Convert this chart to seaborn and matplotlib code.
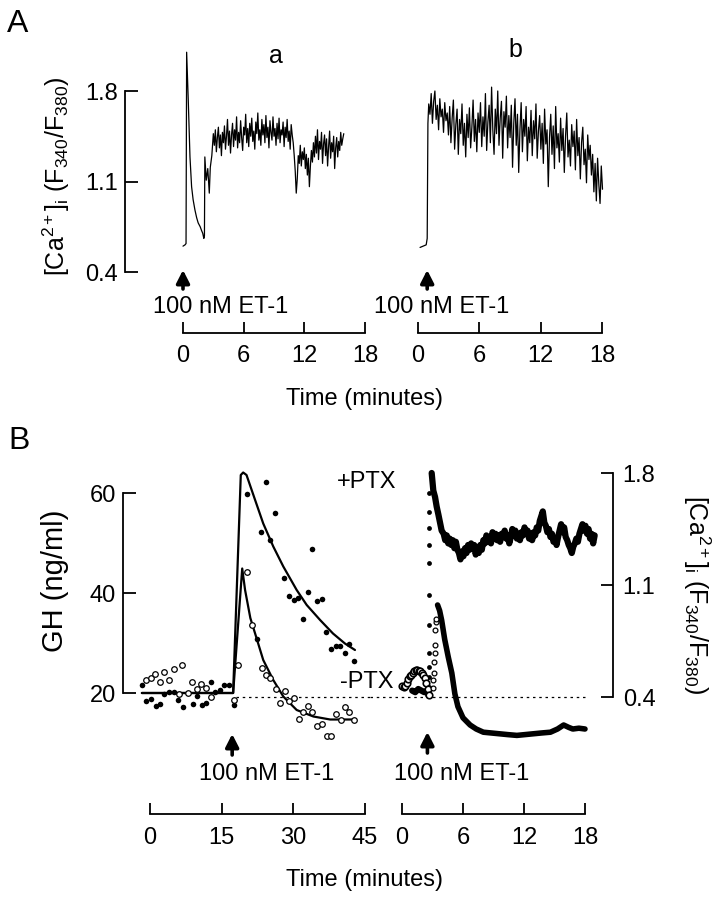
import numpy as np
import pandas as pd
import matplotlib.pyplot as plt
import seaborn as sns

# -----------------------------
# DATA
# -----------------------------
# Panel A-a : [Ca2+]i trace, time in minutes
a_onset_t = [0.0, 0.2, 0.3, 0.36, 0.45, 0.52, 0.69, 0.85, 1.0, 1.18, 1.35, 1.5, 1.7,
             1.84, 1.95, 2.06, 2.12, 2.16, 2.3, 2.45, 2.6, 2.7, 2.85]
a_onset_ca = [0.60, 0.61, 0.62, 2.10, 1.90, 1.73, 1.29, 1.06, 0.96, 0.88, 0.82, 0.78, 0.75,
              0.72, 0.70, 0.66, 0.68, 1.29, 1.11, 1.20, 1.01, 1.21, 1.30]
# plateau, one sample every 0.1 min from 3.0 to 15.9 min
a_plateau_ca = [
    1.47, 1.38, 1.50, 1.33, 1.44, 1.52, 1.36, 1.46, 1.30, 1.48, 1.40,
    1.53, 1.35, 1.45, 1.58, 1.38, 1.49, 1.32, 1.46, 1.55, 1.37,
    1.50, 1.42, 1.60, 1.36, 1.48, 1.40, 1.57, 1.44, 1.34, 1.52,
    1.46, 1.62, 1.40, 1.51, 1.37, 1.55, 1.45, 1.59, 1.41, 1.49,
    1.35, 1.56, 1.47, 1.63, 1.42, 1.50, 1.38, 1.58, 1.46, 1.54,
    1.40, 1.61, 1.44, 1.52, 1.36, 1.57, 1.48, 1.42, 1.60, 1.45,
    1.51, 1.38, 1.55, 1.43, 1.59, 1.40, 1.50, 1.46, 1.56, 1.37,
    1.52, 1.44, 1.58, 1.41, 1.49, 1.35, 1.54, 1.46, 1.40, 1.30,
    1.18, 1.01, 1.12, 1.30, 1.24, 1.38, 1.22, 1.33, 1.27, 1.36,
    1.20, 1.31, 1.15, 1.28, 1.06, 1.22, 1.34, 1.25, 1.40, 1.29,
    1.45, 1.32, 1.50, 1.27, 1.41, 1.35, 1.48, 1.24, 1.39, 1.46,
    1.30, 1.43, 1.22, 1.37, 1.49, 1.28, 1.40, 1.33, 1.45, 1.20,
    1.36, 1.44, 1.29, 1.41, 1.34, 1.48, 1.38, 1.43, 1.47]

# Panel A-b
b_onset_t = [0.2, 0.5, 0.8, 0.9, 0.97]
b_onset_ca = [0.59, 0.60, 0.61, 0.66, 1.55]
# plateau, evenly sampled from 1.05 to 18.05 min
b_plateau_ca = [
    1.70, 1.62, 1.78, 1.55, 1.72, 1.80, 1.58, 1.69, 1.50, 1.74, 1.60, 1.66, 1.48, 1.71, 1.57, 1.63, 1.46,
    1.68, 1.40, 1.59, 1.73, 1.35, 1.54, 1.66, 1.31, 1.58, 1.47, 1.70, 1.38, 1.55, 1.29, 1.62, 1.44, 1.67,
    1.36, 1.52, 1.73, 1.41, 1.58, 1.33, 1.63, 1.48,
    1.71, 1.37, 1.60, 1.45, 1.78, 1.34, 1.56, 1.69, 1.40, 1.83, 1.50, 1.31, 1.66, 1.47, 1.80, 1.38, 1.59,
    1.72, 1.28, 1.64, 1.52, 1.76, 1.36, 1.61, 1.44,
    1.69, 1.21, 1.55, 1.74, 1.38, 1.62, 1.17, 1.50, 1.71, 1.33, 1.58, 1.45, 1.68, 1.26, 1.52, 1.40, 1.65,
    1.30, 1.57, 1.43, 1.70, 1.28, 1.49, 1.61, 1.35,
    1.55, 1.24, 1.66, 1.39, 1.50, 1.06, 1.44, 1.62, 1.31, 1.53, 1.20, 1.68, 1.36, 1.47, 1.25, 1.59, 1.34,
    1.51, 1.17, 1.45, 1.63, 1.29, 1.42, 1.22, 1.54,
    1.37, 1.49, 1.19, 1.58, 1.30, 1.44, 1.12, 1.40, 1.52, 1.23, 1.35, 1.09, 1.46, 1.27, 1.38, 1.15,
    1.31, 1.02, 1.24, 0.95, 1.28, 1.08, 0.93, 1.22, 1.04]

# Panel B left : GH release (ng/ml), time in minutes
gh_plus_t = [-1.74, -0.8, 0.14, 1.2, 2.1, 3.0, 4.0, 5.0, 5.9, 7.0, 8.9, 9.8, 10.8, 11.7, 12.7,
             13.7, 14.6, 15.5, 16.5, 17.6, 20.2, 22.3, 23.2, 24.2, 25.2, 26.2, 28.1, 29.1, 30.1,
             31.0, 32.1, 33.0, 33.9, 35.0, 35.9, 36.8, 37.9, 38.9, 39.7, 40.8, 41.7, 42.7]
gh_plus = [21.6, 18.5, 18.9, 17.4, 17.9, 19.8, 20.2, 20.2, 18.6, 17.3, 17.8, 19.4, 17.6, 18.1, 22.3,
           20.3, 20.7, 21.6, 21.6, 17.7, 59.9, 30.8, 52.3, 62.3, 50.6, 56.1, 43.1, 39.5, 38.6,
           39.1, 34.8, 40.3, 48.9, 38.5, 38.8, 32.3, 28.8, 29.4, 29.4, 28.1, 29.9, 26.4]
gh_minus_t = [-0.8, 0.14, 1.05, 2.1, 3.0, 4.0, 5.0, 6.07, 6.8, 7.9, 8.85, 9.8, 10.7, 11.7, 12.7,
              17.6, 18.5, 20.2, 21.3, 23.4, 24.3, 25.2, 26.3, 27.2, 28.2, 29.1, 30.1, 31.2, 32.1,
              33.1, 34.0, 35.0, 35.9, 37.0, 37.8, 38.9, 39.9, 40.8, 41.7, 42.7]
gh_minus = [22.6, 23.1, 23.9, 22.3, 24.3, 22.6, 24.9, 19.9, 25.6, 20.1, 22.3, 20.9, 21.9, 21.1, 19.3,
            18.6, 25.6, 44.3, 33.7, 25.1, 23.7, 23.1, 20.9, 18.1, 20.4, 18.4, 19.1, 14.9, 16.3,
            17.5, 16.3, 13.5, 13.9, 11.5, 11.5, 15.9, 14.6, 17.3, 16.3, 14.6]
fit_plus_t = [-1.7, 17.4, 19.0, 19.5, 20.2, 22.0, 23.7, 25.8, 27.9, 30.7, 32.8, 35.6, 38.3, 40.8, 42.9]
fit_plus = [20, 20, 63.6, 64.1, 63.6, 58.6, 53.9, 49.3, 45.3, 40.6, 37.6, 34.6, 31.9, 29.9, 28.6]
fit_minus_t = [-1.7, 17.4, 19.3, 19.9, 21.0, 22.0, 23.7, 25.8, 27.9, 30.7, 34.2, 37.7, 42.9]
fit_minus = [20, 20, 44.9, 40.6, 35.0, 31.9, 26.6, 22.6, 19.3, 16.6, 15.3, 14.7, 14.7]

# Panel B right : [Ca2+]i, +PTX (filled) and -PTX (open)
ca_plus_base_t = [1.0, 1.3, 1.6, 1.9, 2.2, 2.5, 2.6]
ca_plus_base = [0.44, 0.43, 0.45, 0.44, 0.43, 0.44, 0.41]
ca_plus_rise_t = 2.65
ca_plus_rise = [0.465, 0.527, 0.59, 0.673, 0.85, 1.04, 1.235, 1.35, 1.454, 1.558, 1.673]
ca_plus_peak_t = [2.92, 3.08, 3.25, 3.41, 3.58, 3.74, 3.9]
ca_plus_peak = [1.80, 1.69, 1.65, 1.59, 1.54, 1.49, 1.44]
# plateau, evenly sampled from 4.1 to 18.95 min
ca_plus_plateau = [
    1.42, 1.38, 1.41, 1.36, 1.39, 1.35, 1.38, 1.33, 1.37, 1.32,
    1.30, 1.26, 1.31, 1.28, 1.33, 1.30, 1.35, 1.32, 1.36, 1.33,
    1.35, 1.29, 1.33, 1.30, 1.35, 1.32, 1.38, 1.36, 1.41, 1.37,
    1.39, 1.36, 1.43, 1.40, 1.42, 1.38, 1.41, 1.37, 1.42, 1.40,
    1.44, 1.39, 1.41, 1.36, 1.40, 1.45, 1.41, 1.44, 1.39, 1.42,
    1.38, 1.43, 1.41, 1.46, 1.42, 1.44, 1.39, 1.42, 1.38, 1.43,
    1.41, 1.46, 1.44, 1.50, 1.53, 1.56, 1.49, 1.47, 1.43, 1.45,
    1.40, 1.42, 1.37, 1.39, 1.35, 1.40, 1.44, 1.48, 1.43, 1.46,
    1.40, 1.38, 1.35, 1.33, 1.30, 1.34, 1.36, 1.39, 1.37, 1.42,
    1.45, 1.48, 1.44, 1.47, 1.42, 1.45, 1.39, 1.42, 1.36, 1.41]
ca_minus_base_t = [0.0, 0.15, 0.3, 0.45, 0.6, 0.75, 0.9, 1.05, 1.2, 1.35, 1.5, 1.65, 1.8, 1.95,
                   2.1, 2.25, 2.4, 2.55, 2.7]
ca_minus_base = [0.47, 0.46, 0.47, 0.49, 0.51, 0.53, 0.54, 0.55, 0.56, 0.57, 0.57, 0.56, 0.56, 0.55,
                 0.54, 0.52, 0.49, 0.45, 0.41]
ca_minus_rise_t = [3.05, 3.08, 3.12, 3.16, 3.2, 3.24, 3.28, 3.32, 3.35]
ca_minus_rise = [0.454, 0.506, 0.548, 0.62, 0.673, 0.725, 0.819, 0.87, 0.89]
ca_minus_t = [3.5, 3.7, 3.9, 4.2, 4.55, 4.9, 5.2, 5.5, 6.0, 6.7, 7.3, 8.0, 8.8, 9.6, 10.4, 11.3,
              12.1, 12.9, 13.7, 14.6, 15.3, 15.9, 16.4, 16.8, 17.4, 18.0]
ca_minus = [0.975, 0.94, 0.88, 0.76, 0.65, 0.55, 0.42, 0.34, 0.27, 0.225, 0.20, 0.18, 0.175, 0.17,
            0.165, 0.16, 0.165, 0.17, 0.175, 0.18, 0.20, 0.225, 0.21, 0.20, 0.205, 0.20]

# stimulus (100 nM ET-1) times and axis ticks
stim_a, stim_b, stim_gh, stim_ca = 0.0, 0.9, 17.2, 2.5
ca_ticks = [0.4, 1.1, 1.8]
gh_ticks = [20, 40, 60]
t18_ticks = [0, 6, 12, 18]
t45_ticks = [0, 15, 30, 45]

# -----------------------------
# STYLE / LAYOUT HELPERS
# -----------------------------
sns.set_style("ticks")
plt.rcParams["font.family"] = ["Liberation Sans", "DejaVu Sans"]
plt.rcParams["mathtext.fontset"] = "custom"
plt.rcParams["mathtext.rm"] = "Liberation Sans"
plt.rcParams["mathtext.it"] = "Liberation Sans:italic"
plt.rcParams["mathtext.default"] = "regular"
for key in ("text.color", "axes.labelcolor", "xtick.color", "ytick.color", "axes.edgecolor"):
    plt.rcParams[key] = "black"

W, H = 716, 900
FS = 17


def box(x0, y0, x1, y1):
    return [x0 / W, 1 - y1 / H, (x1 - x0) / W, (y1 - y0) / H]


def lims(p0, p1, pa, va, pb, vb):
    k = (vb - va) / (pb - pa)
    return va + (p0 - pa) * k, va + (p1 - pa) * k


def fy(y):
    return 1 - y / H


def style(ax, xticks, yticks=None, side="left"):
    for s in ax.spines.values():
        s.set_visible(False)
    ax.spines["bottom"].set_visible(True)
    ax.spines["bottom"].set_bounds(xticks[0], xticks[-1])
    ax.spines["bottom"].set_linewidth(1.3)
    ax.set_xticks(xticks)
    ax.tick_params(axis="x", direction="in", length=8, width=1.3, pad=9, labelsize=FS)
    if yticks is None:
        ax.set_yticks([])
    else:
        ax.spines[side].set_visible(True)
        ax.spines[side].set_bounds(yticks[0], yticks[-1])
        ax.spines[side].set_linewidth(1.3)
        if side == "right":
            ax.yaxis.tick_right()
        ax.set_yticks(yticks)
        ax.tick_params(axis="y", direction="in", length=9, width=1.3,
                       pad=7 if side == "right" else 5, labelsize=FS)
    ax.set_xlabel("")
    ax.set_ylabel("")
    ax.patch.set_alpha(0)


def stim_arrow(ax, t, y_tip, y_tail):
    ax.annotate("", xy=(t, fy(y_tip)), xytext=(t, fy(y_tail)),
                xycoords=("data", "figure fraction"), textcoords=("data", "figure fraction"),
                arrowprops=dict(arrowstyle="-|>,head_length=0.55,head_width=0.28", color="k",
                                lw=2.6, mutation_scale=14, shrinkA=0, shrinkB=0),
                annotation_clip=False)


def trace(ax, t, v, lw, **kw):
    df = pd.DataFrame({"t": t, "v": v})
    sns.lineplot(data=df, x="t", y="v", sort=False, estimator=None, color="k",
                 lw=lw, ax=ax, legend=False, **kw)


fig = plt.figure(figsize=(7.16, 9.0), dpi=100)

# -----------------------------
# PANEL A
# -----------------------------
ax_a = fig.add_axes(box(125, 40, 370, 333))
ax_b = fig.add_axes(box(370, 40, 625, 333))
ax_a.set_xlim(lims(125, 370, 183, 0, 365, 18))
ax_b.set_xlim(lims(370, 625, 418, 0, 602, 18))
for ax in (ax_a, ax_b):
    ax.set_ylim(lims(333, 40, 272, 0.4, 91, 1.8))

a_t = a_onset_t + list(np.linspace(3.0, 15.9, len(a_plateau_ca)))
trace(ax_a, a_t, a_onset_ca + a_plateau_ca, 0.9)
b_t = b_onset_t + list(np.linspace(1.05, 18.05, len(b_plateau_ca)))
trace(ax_b, b_t, b_onset_ca + b_plateau_ca, 0.9)

style(ax_a, t18_ticks, ca_ticks, "left")
style(ax_b, t18_ticks)
stim_arrow(ax_a, stim_a, 270, 289)
stim_arrow(ax_b, stim_b, 270, 289)

fig.text(18 / W, fy(24), "A", fontsize=23, ha="center", va="center")
fig.text(276 / W, fy(63), "a", fontsize=18, ha="center", va="baseline")
fig.text(515 / W, fy(57), "b", fontsize=18, ha="center", va="baseline")
fig.text(221 / W, fy(307), "100 nM ET-1", fontsize=FS, ha="center", va="center")
fig.text(442 / W, fy(307), "100 nM ET-1", fontsize=FS, ha="center", va="center")
fig.text(365 / W, fy(399), "Time (minutes)", fontsize=FS, ha="center", va="center")
ca_label = "[Ca$^{2+}$]$_i$ (F$_{340}$/F$_{380}$)"
fig.text(56 / W, fy(176), ca_label, fontsize=18, rotation=90, ha="center", va="center")

# -----------------------------
# PANEL B
# -----------------------------
ax_gh = fig.add_axes(box(123, 460, 370, 814))
ax_ca = fig.add_axes(box(370, 460, 613, 814))
ax_gh.set_xlim(lims(123, 370, 150, 0, 365, 45))
ax_gh.set_ylim(lims(814, 460, 693, 20, 493, 60))
ax_ca.set_xlim(lims(370, 613, 402, 0, 585, 18))
ax_ca.set_ylim(lims(814, 460, 697, 0.4, 473, 1.8))

# dotted reference line at the GH / Ca baseline
ax_gh.hlines(19.2, 18.0, ax_gh.get_xlim()[1], colors="k", lw=0.9, linestyles=(0, (2, 3)))
ax_ca.hlines(0.4, ax_ca.get_xlim()[0], 18.3, colors="k", lw=0.9, linestyles=(0, (2, 3)))

trace(ax_gh, fit_plus_t, fit_plus, 1.6)
trace(ax_gh, fit_minus_t, fit_minus, 1.6)
sns.scatterplot(x=gh_plus_t, y=gh_plus, color="k", s=16, linewidth=0, ax=ax_gh, zorder=3)
sns.scatterplot(x=gh_minus_t, y=gh_minus, color="white", edgecolor="k", s=16, linewidth=0.9,
                ax=ax_gh, zorder=3)

trace(ax_ca, ca_plus_base_t, ca_plus_base, 4.5)
sns.scatterplot(x=[ca_plus_rise_t] * len(ca_plus_rise), y=ca_plus_rise, color="k", s=12,
                linewidth=0, ax=ax_ca)
ca_plus_t = ca_plus_peak_t + list(np.linspace(4.1, 18.95, len(ca_plus_plateau)))
trace(ax_ca, ca_plus_t, ca_plus_peak + ca_plus_plateau, 4.5)
sns.scatterplot(x=ca_minus_base_t, y=ca_minus_base, color="white", edgecolor="k", s=22,
                linewidth=1.2, ax=ax_ca, zorder=3)
sns.scatterplot(x=ca_minus_rise_t, y=ca_minus_rise, color="white", edgecolor="k", s=12,
                linewidth=0.9, ax=ax_ca, zorder=3)
trace(ax_ca, ca_minus_t, ca_minus, 4.0)

style(ax_gh, t45_ticks, gh_ticks, "left")
style(ax_ca, t18_ticks, ca_ticks, "right")
stim_arrow(ax_gh, stim_gh, 734, 755)
stim_arrow(ax_ca, stim_ca, 732, 753)

fig.text(19 / W, fy(441), "B", fontsize=23, ha="center", va="center")
fig.text(367 / W, fy(482), "+PTX", fontsize=FS, ha="center", va="center")
fig.text(367 / W, fy(682), "-PTX", fontsize=FS, ha="center", va="center")
fig.text(267 / W, fy(774), "100 nM ET-1", fontsize=FS, ha="center", va="center")
fig.text(462 / W, fy(774), "100 nM ET-1", fontsize=FS, ha="center", va="center")
fig.text(365 / W, fy(880), "Time (minutes)", fontsize=FS, ha="center", va="center")
fig.text(55 / W, fy(581), "GH (ng/ml)", fontsize=21, rotation=90, ha="center", va="center")
fig.text(697 / W, fy(595), ca_label, fontsize=18, rotation=270, ha="center", va="center")

fig.savefig("out.png", dpi=100, facecolor="white")
